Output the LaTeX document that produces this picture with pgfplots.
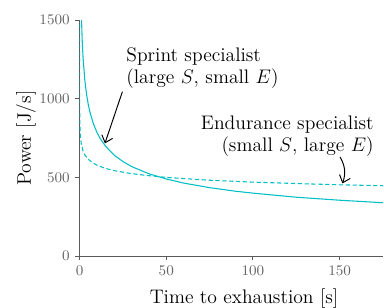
\documentclass[border=0pt]{standalone}
\usepackage{pgfplots}
\pgfplotsset{compat=1.18}
\usetikzlibrary{arrows.meta}
\definecolor{cyn}{RGB}{0,191,196}
\definecolor{axgray}{RGB}{90,90,90}
\definecolor{tkgray}{RGB}{100,100,100}
\begin{document}
\begin{tikzpicture}
\useasboundingbox (-48.7pt,-31.2pt) rectangle ++(235pt,187.9pt);
\begin{axis}[
  anchor=origin, at={(0,0)},
  scale only axis,
  width=185.7pt, height=144.4pt,
  xmin=0, xmax=175, ymin=0, ymax=1500,
  axis lines=left,
  axis line style={-, axgray, line width=0.6pt},
  xtick={0,50,100,150}, ytick={0,500,1000,1500},
  tick align=outside,
  major tick length=2.5pt,
  tick style={axgray, line width=0.6pt},
  ticklabel style={font=\fontsize{9}{10}\selectfont, text=tkgray},
  /pgf/number format/set thousands separator={},
  scaled y ticks=false,
  xlabel={Time to exhaustion [s]},
  ylabel={Power [J/s]},
  label style={font=\fontsize{12}{14}\selectfont},
  xlabel style={at={(axis description cs:0.542,-0.1994)}, anchor=base},
  ylabel style={at={(axis description cs:-0.177,0.5)}, anchor=center},
  clip=true,
]
\addplot[cyn, line width=0.65pt] coordinates {
(1,1548) (1.5,1374) (2,1262) (3,1120) (4,1030) (5,964) (6,914) (8,840)
(10,786) (12,745) (15,698) (20,641) (25,601) (30,569) (40,523) (50,490)
(60,464) (75,435) (90,412) (100,400) (125,374) (150,355) (175,339)
};
\addplot[cyn, line width=0.65pt, dash pattern=on 2.6pt off 1.6pt] coordinates {
(0.0003,1476) (0.001,1325) (0.01,1077) (0.1,875) (0.5,757) (1,711) (2,668)
(3,644) (5,615) (8,590) (10,578) (15,557) (20,543) (30,524) (40,511)
(50,500) (75,482) (100,470) (125,461) (150,453) (175,447)
};
\node[anchor=north west, inner sep=0pt, align=left, font=\fontsize{12}{13.3}\selectfont]
  at (axis cs:26.8,1325) {Sprint specialist\\(large $S$, small $E$)};
\node[anchor=north east, inner sep=0pt, align=right, font=\fontsize{12}{13.6}\selectfont]
  at (axis cs:169.8,895) {Endurance specialist\\(small $S$, large $E$)};
\draw[-{Straight Barb[length=4pt,width=7pt]}, line width=0.6pt]
  (axis cs:24.7,1045) -- (axis cs:14.6,716);
\draw[-{Straight Barb[length=4pt,width=7pt]}, line width=0.6pt]
  (axis cs:150.2,630) to[bend left=25] (axis cs:151.6,462);
\end{axis}
\end{tikzpicture}
\end{document}
